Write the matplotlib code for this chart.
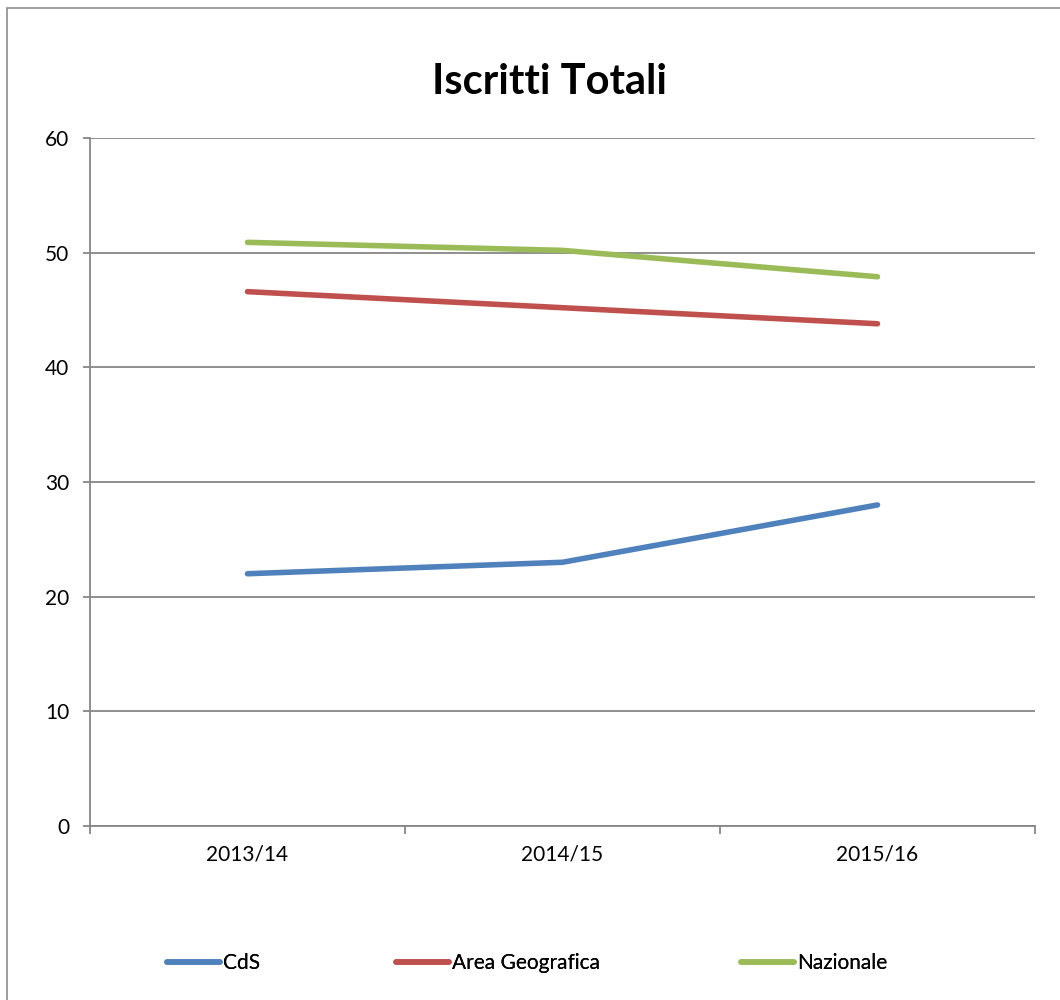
import matplotlib
matplotlib.use("Agg")
import matplotlib.pyplot as plt
from matplotlib.patches import Rectangle

plt.rcParams['font.family'] = ['Lato', 'DejaVu Sans']

# Data
years = ["2013/14", "2014/15", "2015/16"]
cds = [22, 23, 28]
area_geografica = [46.6, 45.2, 43.8]
nazionale = [50.9, 50.2, 47.9]
series_names = ["CdS", "Area Geografica", "Nazionale"]
y_ticks = [0, 10, 20, 30, 40, 50, 60]

colors = ["#4F81BD", "#C0504D", "#9BBB59"]
grid_color = "#868686"

W, H = 1060, 1000
fig = plt.figure(figsize=(W / 100, H / 100), dpi=100)

# chart-area border
fig.add_artist(Rectangle((7 / W, -0.1), 1.2, 1 - 8 / H + 0.1, transform=fig.transFigure,
                         fill=False, edgecolor="#8c8c8c", linewidth=1.2))

ax = fig.add_axes([90 / W, 1 - 826 / H, (1035 - 90) / W, (826 - 138) / H])

xs = list(range(len(years)))
lines = []
for vals, name, c in zip([cds, area_geografica, nazionale], series_names, colors):
    ln, = ax.plot(xs, vals, color=c, linewidth=4.0, solid_capstyle="round",
                  solid_joinstyle="round", label=name, zorder=3)
    lines.append(ln)

ax.set_xlim(-0.5, len(years) - 0.5)
ax.set_ylim(0, 60)
ax.set_yticks(y_ticks)
ax.yaxis.grid(True, color=grid_color, linewidth=1.3)
ax.set_axisbelow(True)

for s in ["top", "right"]:
    ax.spines[s].set_visible(False)
for s in ["left", "bottom"]:
    ax.spines[s].set_color(grid_color)
    ax.spines[s].set_linewidth(1.3)

ax.tick_params(axis="y", length=5, width=1.3, color=grid_color, pad=10,
               labelsize=15, labelcolor="black")

# category boundaries as major ticks, labels at category centers
ax.set_xticks([i - 0.5 for i in range(len(years) + 1)])
ax.set_xticklabels([])
ax.tick_params(axis="x", which="major", length=6, width=1.3, color=grid_color)
ax.set_xticks(xs, minor=True)
ax.set_xticklabels(years, minor=True)
ax.tick_params(axis="x", which="minor", length=0, pad=13, labelsize=15)

fig.text(550 / W, 1 - 82 / H, "Iscritti Totali", ha="center", va="center",
         fontsize=30, fontweight="bold")

# legend entries
legend_x = [167, 396, 741]
for ln, lx in zip(lines, legend_x):
    leg = fig.legend(handles=[ln], loc="center left", bbox_to_anchor=(lx / W, 1 - 963 / H),
                     frameon=False, fontsize=15, handlelength=2.55, handletextpad=0.15,
                     borderpad=0, borderaxespad=0)
    fig.add_artist(leg)

fig.savefig("out.png", dpi=100)
